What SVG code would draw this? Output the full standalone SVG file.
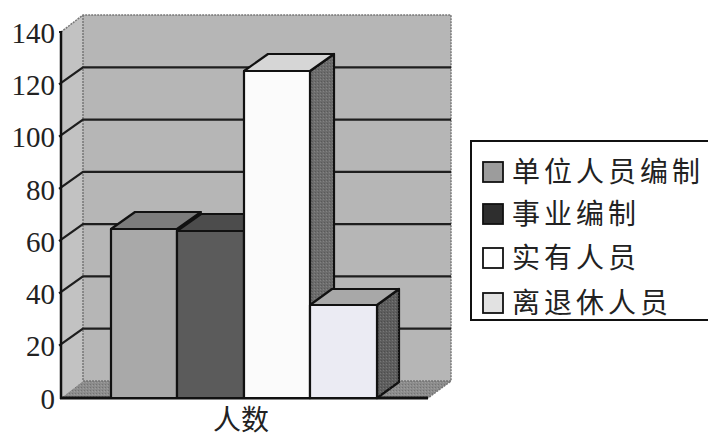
<svg xmlns="http://www.w3.org/2000/svg" width="708" height="439" viewBox="0 0 708 439">
  <defs>
    <pattern id="dither" width="3" height="3" patternUnits="userSpaceOnUse">
      <rect x="0" y="0" width="1" height="1" fill="#000" fill-opacity="0.18"/>
      <rect x="2" y="1" width="1" height="1" fill="#fff" fill-opacity="0.15"/>
    </pattern>
  </defs>
  <style>
    .axis { font-family: "Liberation Serif", "DejaVu Serif", serif; font-size: 29px; fill: #222; text-anchor: end; }
    .cjk { font-family: "Noto Sans CJK SC", "Noto Sans", sans-serif; font-size: 28px; fill: #222; }
    .grid { stroke: #1e1e1e; stroke-width: 2.2; fill: none; }
    .edge { stroke: #777; stroke-width: 1.5; stroke-dasharray: 2 1; fill: none; }
    .bar { stroke: #111; stroke-width: 2.2; stroke-linejoin: round; }
    .sw { stroke: #111; stroke-width: 1.8; }
  </style>
  <rect width="708" height="439" fill="#ffffff"/>

  <g id="chart-walls">
    <polygon points="61,32 83,15 83,381 61,398" fill="#c2c2c2"/>
    <rect x="83" y="15" width="368" height="366" fill="#b6b6b6"/>
    <polygon points="61,398 83,381 451,381 428,398" fill="#8c8c8c"/>
    <polygon points="61,398 83,381 451,381 428,398" fill="url(#dither)"/>
    <polyline class="edge" points="61,32 83,15 451,15 451,381"/>
    <line class="edge" x1="83" y1="15" x2="83" y2="381"/>
    <polyline class="edge" points="83,381 451,381 428,398"/>
  </g>

  <g id="gridlines">
    <path class="grid" d="M59,84.3 L83,67.3 H451 M59,136.6 L83,119.6 H451 M59,188.9 L83,171.9 H451 M59,241.1 L83,224.1 H451 M59,293.4 L83,276.4 H451 M59,345.7 L83,328.7 H451"/>
    <path class="grid" d="M59,32 H61"/>
  </g>

  <g id="axis">
    <line x1="61" y1="31" x2="61" y2="399" stroke="#111" stroke-width="2.5"/>
    <line x1="60" y1="398" x2="428" y2="398" stroke="#111" stroke-width="3"/>
    <text class="axis" x="55" y="43">140</text>
    <text class="axis" x="55" y="95">120</text>
    <text class="axis" x="55" y="147">100</text>
    <text class="axis" x="55" y="200">80</text>
    <text class="axis" x="55" y="252">60</text>
    <text class="axis" x="55" y="304">40</text>
    <text class="axis" x="55" y="356">20</text>
    <text class="axis" x="55" y="409">0</text>
  </g>

  <g id="bar-danwei">
    <polygon class="bar" points="111,229 135,212 201,212 177,229" fill="#7c7c7c"/>
    <rect class="bar" x="111" y="229" width="66" height="169" fill="#a9a9a9"/>
  </g>
  <g id="bar-shiye">
    <polygon class="bar" points="177,231 201,214 268,214 244,231" fill="#4c4c4c"/>
    <rect class="bar" x="177" y="231" width="67" height="167" fill="#5b5b5b"/>
  </g>
  <g id="bar-shiyou">
    <polygon class="bar" points="310,71 334,54 334,381 310,398" fill="#6c6c6c"/>
    <polygon points="310,71 334,54 334,381 310,398" fill="url(#dither)"/>
    <polygon class="bar" points="244,71 268,54 334,54 310,71" fill="#d6d6d6"/>
    <rect class="bar" x="244" y="71" width="66" height="327" fill="#fbfbfb"/>
  </g>
  <g id="bar-lituixiu">
    <polygon class="bar" points="377,305 399,289 399,382 377,398" fill="#5e5e5e"/>
    <polygon points="377,305 399,289 399,382 377,398" fill="url(#dither)"/>
    <polygon class="bar" points="310,305 332,289 399,289 377,305" fill="#a8a8a8"/>
    <rect class="bar" x="310" y="305" width="67" height="93" fill="#ebebf3"/>
  </g>

  <g id="category-label">
    <text class="cjk" x="241" y="430" text-anchor="middle">人数</text>
  </g>

  <g id="legend">
    <rect x="471" y="141" width="240" height="179" fill="#fff" stroke="#111" stroke-width="2"/>
    <g id="legend-danwei">
      <rect class="sw" x="483" y="162" width="20" height="20" fill="#9c9c9c"/>
      <text class="cjk" x="512" y="182" letter-spacing="4">单位人员编制</text>
    </g>
    <g id="legend-shiye">
      <rect class="sw" x="483" y="204" width="20" height="20" fill="#2e2e2e"/>
      <text class="cjk" x="512" y="224" letter-spacing="4">事业编制</text>
    </g>
    <g id="legend-shiyou">
      <rect class="sw" x="483" y="248" width="20" height="20" fill="#ffffff"/>
      <text class="cjk" x="512" y="268" letter-spacing="4">实有人员</text>
    </g>
    <g id="legend-lituixiu">
      <rect class="sw" x="483" y="293" width="20" height="20" fill="#e2e2e2"/>
      <text class="cjk" x="512" y="313" letter-spacing="4">离退休人员</text>
    </g>
  </g>
</svg>
